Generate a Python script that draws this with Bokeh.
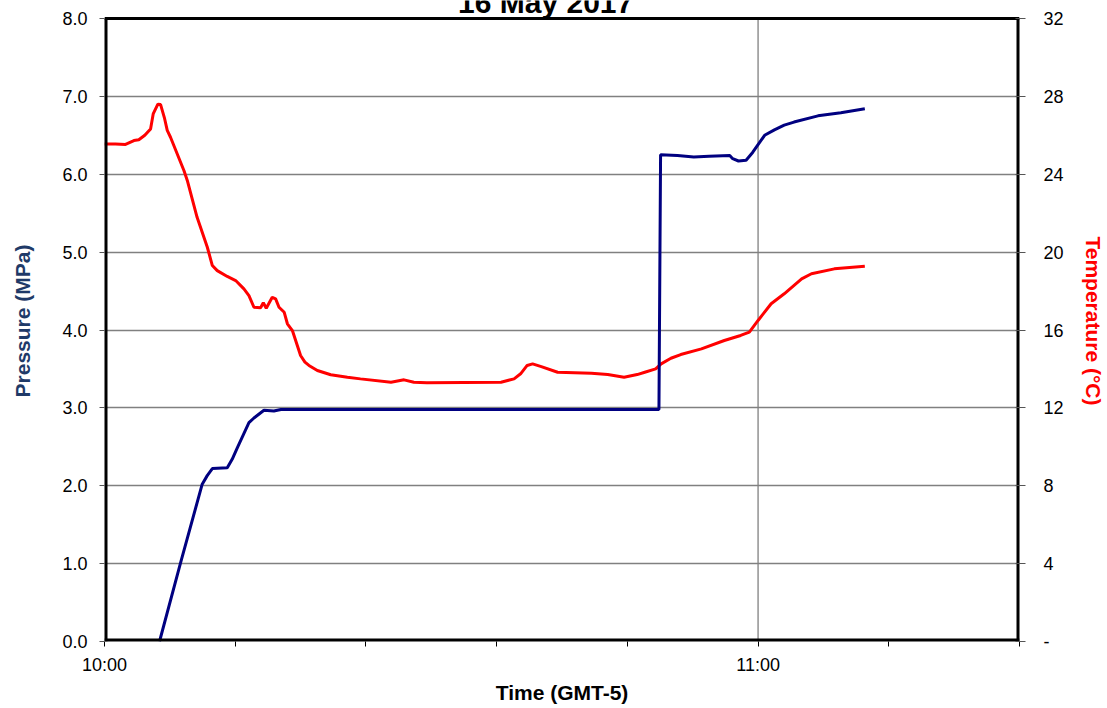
from bokeh.plotting import figure
from bokeh.models import Range1d, LinearAxis, FixedTicker, Label, NumeralTickFormatter
from bokeh.embed import file_html
from bokeh.resources import INLINE

# ---------------- data ----------------
title_text = "16 May 2017"
x_title = "Time (GMT-5)"
y_left_title = "Pressure (MPa)"
y_right_title = "Temperature (°C)"

# x positions are minutes after 10:00
x_tick_minutes = [0, 12, 24, 36, 48, 60, 72, 84]
x_tick_labels = ["10:00", "", "", "", "", "11:00", "", ""]
pressure_ticks = [0, 1, 2, 3, 4, 5, 6, 7, 8]
temp_ticks = [0, 4, 8, 12, 16, 20, 24, 28, 32]
temp_tick_labels = ["-", "4", "8", "12", "16", "20", "24", "28", "32"]

pressure_time = [5.05, 7.0, 8.97, 9.43, 9.9, 11.27, 11.72, 12.2, 13.26, 13.72, 14.64,
                 15.55, 16.2, 20.0, 25.0, 30.0, 35.0, 40.0, 45.0, 50.9,
                 51.05, 52.6, 54.1, 55.5, 57.4, 57.67, 58.2, 58.9, 59.5, 59.9,
                 60.6, 61.5, 62.4, 63.3, 65.5, 67.6, 69.8]
pressure_mpa = [0.0, 1.02, 2.02, 2.13, 2.22, 2.23, 2.34, 2.49, 2.81, 2.87, 2.97,
                2.96, 2.98, 2.98, 2.98, 2.98, 2.98, 2.98, 2.98, 2.98,
                6.25, 6.24, 6.22, 6.23, 6.24, 6.20, 6.17, 6.18, 6.28, 6.36,
                6.50, 6.57, 6.63, 6.67, 6.75, 6.79, 6.84]

temp_time = [0.0, 1.0, 1.93, 2.7, 3.15, 3.7, 4.23, 4.47, 4.9, 5.15, 5.5, 5.76, 6.06,
             7.29, 7.6, 8.5, 9.44, 9.9, 10.35, 11.27, 12.04, 12.8, 13.26, 13.72,
             14.33, 14.58, 14.85, 15.4, 15.71, 16.02, 16.5, 16.79, 17.25, 17.7,
             18.0, 18.4, 18.77, 19.54, 20.77, 22.3, 23.5, 26.3, 27.5, 28.4, 29.6,
             36.4, 37.6, 38.2, 38.8, 39.3, 40.1, 41.6, 44.7, 46.2, 47.7, 48.9,
             49.6, 50.6, 51.1, 52.0, 52.9, 54.8, 56.9, 58.4, 59.2, 60.0, 61.2,
             62.4, 64.0, 64.9, 67.0, 69.8]
temp_c = [25.56, 25.55, 25.53, 25.73, 25.77, 26.0, 26.33, 27.1, 27.6, 27.58, 26.9,
          26.25, 25.9, 24.19, 23.68, 21.79, 20.25, 19.31, 19.05, 18.75, 18.54,
          18.11, 17.77, 17.17, 17.14, 17.40, 17.12, 17.68, 17.6, 17.17, 16.91,
          16.32, 15.97, 15.2, 14.69, 14.35, 14.18, 13.92, 13.70, 13.57, 13.49,
          13.32, 13.44, 13.32, 13.29, 13.32, 13.49, 13.75, 14.18, 14.26, 14.12,
          13.83, 13.78, 13.71, 13.57, 13.71, 13.83, 14.0, 14.26, 14.55, 14.74,
          15.03, 15.46, 15.72, 15.89, 16.49, 17.35, 17.86, 18.63, 18.89, 19.14,
          19.28]

# ---------------- layout constants ----------------
FONT = "Liberation Sans"
W, H = 1107, 708
LEFT, RIGHT, BOTTOM = 104, 88, 67
BOX_TOP_PX = 18          # pixel gap between canvas top and plot box top
x_min, x_max = x_tick_minutes[0], x_tick_minutes[-1]
p_min, p_max = pressure_ticks[0], pressure_ticks[-1]
t_max_tick = temp_ticks[-1]
box_h = H - BOTTOM - BOX_TOP_PX
# extend the y range upward so the title area (above the box) belongs to the frame
y_top = p_max + BOX_TOP_PX * (p_max - p_min) / box_h
t_top = y_top * t_max_tick / p_max

p = figure(width=W, height=H, output_backend="svg", toolbar_location=None,
           x_range=Range1d(x_min, x_max), y_range=Range1d(p_min, y_top),
           min_border_left=LEFT, min_border_right=RIGHT, min_border_top=0,
           min_border_bottom=BOTTOM)
p.extra_y_ranges = {"temp": Range1d(0, t_top)}
p.background_fill_color = "white"
p.border_fill_color = "white"
p.outline_line_color = None

# x axis
xa = p.xaxis[0]
xa.ticker = FixedTicker(ticks=x_tick_minutes)
xa.major_label_overrides = {t: lab for t, lab in zip(x_tick_minutes, x_tick_labels)}
xa.axis_label = x_title
xa.axis_label_text_font = FONT
xa.axis_label_text_font_style = "bold"
xa.axis_label_text_font_size = "21px"
xa.axis_label_text_color = "black"
xa.axis_label_standoff = 3
xa.major_label_standoff = 8
xa.major_label_text_font = FONT
xa.major_label_text_font_size = "18px"
xa.major_label_text_color = "black"
xa.axis_line_color = None
xa.major_tick_line_color = "black"
xa.major_tick_line_width = 1
xa.major_tick_in = 0
xa.major_tick_out = 5
xa.minor_tick_line_color = None

# left axis
ya = p.yaxis[0]
ya.ticker = FixedTicker(ticks=pressure_ticks)
ya.formatter = NumeralTickFormatter(format="0.0")
ya.axis_label = y_left_title
ya.axis_label_text_font = FONT
ya.axis_label_text_font_style = "bold"
ya.axis_label_text_font_size = "21px"
ya.axis_label_text_color = "#1F3A68"
ya.axis_label_standoff = 25
ya.major_label_standoff = 12
ya.major_label_text_font = FONT
ya.major_label_text_font_size = "18px"
ya.major_label_text_color = "black"
ya.axis_line_color = None
ya.major_tick_line_color = "#555555"
ya.major_tick_in = 0
ya.major_tick_out = 5
ya.minor_tick_line_color = None

# right axis
ra = LinearAxis(y_range_name="temp")
ra.ticker = FixedTicker(ticks=temp_ticks)
ra.major_label_overrides = {t: lab for t, lab in zip(temp_ticks, temp_tick_labels)}
ra.axis_label = y_right_title
ra.axis_label_text_font = FONT
ra.axis_label_text_font_style = "bold"
ra.axis_label_text_font_size = "21px"
ra.axis_label_text_color = "#FF0000"
ra.axis_label_standoff = 15
ra.major_label_standoff = 18
ra.major_label_text_font = FONT
ra.major_label_text_font_size = "18px"
ra.major_label_text_color = "black"
ra.axis_line_color = None
ra.major_tick_line_color = "#555555"
ra.major_tick_in = 4
ra.major_tick_out = 6
ra.minor_tick_line_color = None
p.add_layout(ra, "right")

# grids: horizontal lines from the pressure ticks, vertical line only at 11:00
p.ygrid.ticker = FixedTicker(ticks=pressure_ticks)
p.ygrid.grid_line_color = "#808080"
p.ygrid.grid_line_width = 1.3
p.xgrid.visible = False
major_hour = x_tick_minutes[5]
p.segment(x0=[major_hour], y0=[p_min], x1=[major_hour], y1=[p_max],
          line_color="#808080", line_width=1.3)

# data lines
p.line(temp_time, temp_c, y_range_name="temp", line_color="#FF0000", line_width=3)
p.line(pressure_time, pressure_mpa, line_color="#000080", line_width=3)

# plot box border (edges on the frame boundary are half clipped, so drawn wider)
p.segment(x0=[x_min, x_max, x_min, x_min], y0=[p_min, p_min, p_min, p_max],
          x1=[x_min, x_max, x_max, x_max], y1=[p_max, p_max, p_min, p_max],
          line_color="black", line_width=[6, 6, 6, 3])

# title (partially cut at the top as in the reference)
title = Label(x=40.5, y=p_max, text=title_text, text_align="center",
              text_baseline="bottom", text_font=FONT, text_font_style="bold",
              text_font_size="30px", text_color="black", y_offset=0)
p.add_layout(title)

open("out.html", "w").write(file_html(p, INLINE))
